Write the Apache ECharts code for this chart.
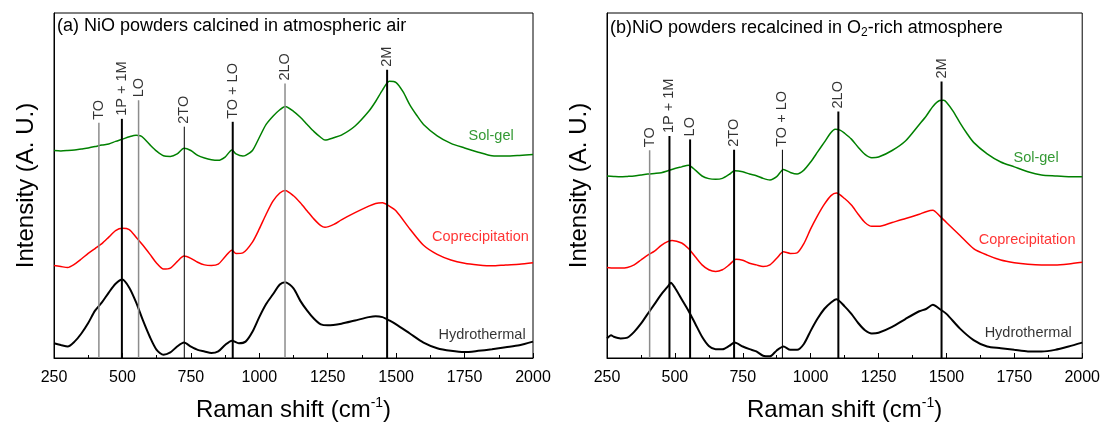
<!DOCTYPE html>
<html><head><meta charset="utf-8">
<script src="https://cdn.jsdelivr.net/npm/echarts@6/dist/echarts.min.js"></script>
<style>html,body{margin:0;padding:0;background:#fff}#c{width:1103px;height:429px}</style>
</head><body><div id="c"></div>
<script>
// ---------- data (Raman shift cm-1, intensity a.u.) ----------
const solGelA = [[250,211.7],[275,211.3],[300,211.7],[325,212.3],[350,213.3],[375,214.3],[400,215.7],[425,217.3],[450,218.3],[475,221],[500,223.3],[525,225.7],[550,227.3],[565,226.7],[575,225],[600,217.7],[625,211],[650,206.3],[675,205.7],[700,208.3],[725,214],[750,211.7],[775,206.7],[800,204],[825,202.3],[850,201.7],[875,205],[900,212.3],[915,208.3],[940,206],[950,206.7],[975,211.7],[1000,225],[1025,238.3],[1050,246.7],[1075,253.3],[1095,256.7],[1125,251.7],[1150,245.7],[1175,238.3],[1200,231],[1225,225],[1240,222.3],[1275,225],[1300,227.3],[1350,236.7],[1400,251.7],[1425,261.7],[1450,273.3],[1475,282.3],[1500,281],[1525,271.7],[1550,258.3],[1575,247.7],[1600,238.3],[1650,226.7],[1700,219],[1750,214.3],[1800,210],[1850,206.3],[1900,206],[1950,206.7],[2000,207.7]];
const coprecA = [[250,94.3],[275,93.3],[300,92.3],[325,95.7],[350,101],[375,106.7],[400,111.7],[425,116.7],[450,123.3],[475,130],[500,132.3],[525,131],[550,123.3],[575,115],[600,106],[625,96.7],[650,90.7],[675,91.7],[700,98.3],[725,104],[750,101.7],[775,97.7],[800,95],[825,94.3],[850,95.7],[875,103.3],[900,110],[915,106.7],[940,107.3],[975,118.3],[1000,131.7],[1025,146.7],[1050,160],[1075,168.3],[1095,171],[1125,165.5],[1150,158.3],[1175,150],[1200,141.7],[1225,135],[1240,133.3],[1275,136.7],[1300,141],[1350,148.3],[1400,155],[1425,157.7],[1450,158.3],[1475,155],[1500,150],[1550,131.7],[1600,115],[1650,105.7],[1700,100],[1750,96.7],[1800,95],[1850,94],[1900,95],[1950,95.7],[2000,97.3]];
const hydroA = [[250,15],[275,13.3],[300,11.7],[325,16.7],[350,25],[375,35.7],[400,48.3],[425,56.7],[450,66.7],[475,75.7],[500,80],[525,71.7],[550,56.7],[575,38.3],[600,21.7],[625,8.3],[650,3.3],[675,5.7],[700,11.7],[725,15.7],[750,11.7],[775,8.3],[800,6.7],[825,5],[850,6.7],[875,13.3],[900,17.7],[925,15],[950,16.7],[975,26.7],[1000,41.7],[1025,55],[1050,65],[1075,75],[1095,77.3],[1125,71],[1150,58.3],[1175,48.3],[1200,40],[1225,34.3],[1250,33.3],[1300,35],[1350,38.3],[1400,41.7],[1425,42.7],[1450,41.7],[1475,38.3],[1500,34.3],[1550,25],[1600,15.7],[1650,10],[1700,7.3],[1750,6],[1800,7.3],[1850,9],[1900,11],[1950,13],[2000,16.7]];

const solGelB = [[250,185.7],[275,185.3],[300,185],[325,185.3],[350,185.7],[375,186.7],[400,187.7],[425,188.3],[450,189],[475,191],[500,193.3],[525,195],[550,196.7],[575,191.7],[600,185.7],[625,183],[650,182.3],[675,183.3],[700,187.3],[720,191],[750,190],[775,187.7],[800,186],[825,183.3],[850,181.7],[875,185],[900,192.3],[925,189.3],[950,187.7],[975,191.7],[1000,200],[1025,210],[1050,220],[1075,230],[1090,233.3],[1110,232.3],[1125,229.3],[1150,223.3],[1175,215],[1200,207.7],[1225,204.3],[1250,205],[1300,211.7],[1350,221.7],[1400,238.3],[1425,246.7],[1450,256.7],[1475,262.7],[1490,263],[1500,261],[1525,251.7],[1550,240],[1575,229.3],[1600,220],[1650,208.3],[1700,200],[1750,195],[1800,190],[1850,186.7],[1900,185.7],[1950,185],[2000,185]];
const coprecB = [[250,92.3],[275,91.7],[300,91.7],[325,92.3],[350,95],[375,100],[400,105],[425,109],[450,115],[475,119],[490,120],[525,117.3],[550,111.7],[575,103.3],[600,95],[625,90],[650,88.3],[675,90],[700,95],[725,100.7],[750,99.7],[775,96.7],[800,95],[825,93.3],[850,95],[875,101.7],[900,108.3],[925,106.7],[950,107.3],[975,116.7],[1000,131.7],[1025,145],[1050,156.7],[1075,165.7],[1095,168.3],[1125,162.7],[1150,156],[1175,146.7],[1200,138.3],[1225,134.3],[1250,134.3],[1300,138.3],[1350,142.3],[1400,146.7],[1425,149.3],[1450,150.7],[1475,145],[1500,138.3],[1550,125],[1600,111.7],[1650,105],[1700,100],[1750,97.3],[1800,95.7],[1850,95],[1900,95],[1950,96],[2000,97.7]];
const hydroB = [[250,20],[265,23.3],[275,21.7],[300,20],[325,20.7],[350,26.7],[375,35],[400,45],[425,55],[450,65],[475,73.3],[485,76.7],[500,71.7],[525,60],[550,48.3],[575,35],[600,21.7],[625,12.3],[650,9],[675,9],[700,12.3],[720,15.7],[750,11.7],[775,9],[800,6.7],[825,2.3],[850,1.7],[875,7.7],[900,11.7],[925,8.3],[950,8.3],[975,14.3],[1000,27.7],[1025,40],[1050,50],[1075,56.7],[1095,60],[1125,52.7],[1150,45],[1175,35.7],[1200,28.3],[1225,25],[1250,25.7],[1300,31.7],[1350,40],[1400,47.7],[1425,50],[1450,54.3],[1475,50],[1500,45],[1550,30],[1600,18.3],[1650,11.7],[1700,10],[1750,8.3],[1800,6.7],[1850,6.7],[1900,8.3],[1950,11.7],[2000,15.7]];

const peakNames = ['TO', '1P + 1M', 'LO', '2TO', 'TO + LO', '2LO', '2M'];
const peakPosA = [414, 498, 559, 726, 903, 1094, 1467];
const peakTopA = [240, 244, 263, 236, 241, 280, 294];
const peakPosB = [407, 480, 556, 718, 896, 1102, 1482];
const peakTopB = [212, 226.5, 223, 212.5, 212.5, 251.5, 282];

const sampleNames = ['Sol-gel', 'Coprecipitation', 'Hydrothermal'];
const xTicks = [250, 500, 750, 1000, 1250, 1500, 1750, 2000];
const titleA = '(a) NiO powders calcined in atmospheric air';
const titleB = '(b)NiO powders recalcined in O{sub|2}-rich atmosphere';

// ---------- styles (kept apart from data) ----------
const peakKindA = ['gray', 'bold', 'gray', 'thin', 'bold', 'gray', 'bold'];
const peakKindB = ['gray', 'bold', 'bold', 'bold', 'thin', 'bold', 'bold'];
const sampleLabelAt = {a: [[1847, 226.5], [1808, 123.5], [1814, 23.5]], b: [[1830, 204.5], [1797, 120], [1801, 25]]};
const colors = ['#008000', '#ff0000', '#000000'];
const lineW = [1.5, 1.5, 2];
const kindStyle = {gray: {color: '#8c8c8c', width: 1.5}, bold: {color: '#000', width: 2}, thin: {color: '#000', width: 1}};
const FONT = '"Liberation Sans", Arial, sans-serif';

function panelSeries(k, curves, pos, top, kinds, labAt) {
  const s = [];
  curves.forEach((c, i) => s.push({
    type: 'line', xAxisIndex: k, yAxisIndex: k, data: c, showSymbol: false, smooth: 0.25,
    lineStyle: {color: colors[i], width: lineW[i]}, z: 2, animation: false, silent: true
  }));
  pos.forEach((v, i) => s.push({
    type: 'line', xAxisIndex: k, yAxisIndex: k, data: [[v, 0], [v, top[i]]], showSymbol: false,
    lineStyle: {color: kindStyle[kinds[i]].color, width: kindStyle[kinds[i]].width}, z: 3, animation: false, silent: true
  }));
  s.push({
    type: 'scatter', xAxisIndex: k, yAxisIndex: k, symbolSize: 0, animation: false, silent: true,
    data: pos.map((v, i) => [v, top[i], peakNames[i]]),
    label: {show: true, formatter: p => p.data[2], position: 'top', distance: 3, rotate: 90,
      align: 'left', verticalAlign: 'middle', fontSize: 14.5, fontFamily: FONT, color: '#000'}
  });
  sampleNames.forEach((n, i) => s.push({
    type: 'scatter', xAxisIndex: k, yAxisIndex: k, symbolSize: 0, animation: false, silent: true,
    data: [[labAt[i][0], labAt[i][1], n]],
    label: {show: true, formatter: p => p.data[2], position: 'inside', fontSize: 14.5, fontFamily: FONT, color: colors[i]}
  }));
  return s;
}

function xAxis(k) {
  return {
    type: 'value', gridIndex: k, min: 250, max: 2000, interval: 250,
    name: 'Raman shift (cm{sup|-1})', nameLocation: 'middle', nameGap: 38,
    nameTextStyle: {fontSize: 24, fontFamily: FONT, color: '#000', lineHeight: 28,
      rich: {sup: {fontSize: 14, fontFamily: FONT, color: '#000', verticalAlign: 'top', lineHeight: 10}}},
    axisLine: {show: true, lineStyle: {color: '#000', width: 1}},
    axisTick: {show: true, inside: true, length: 5, lineStyle: {color: '#000'}},
    minorTick: {show: true, splitNumber: 2, length: 3, lineStyle: {color: '#000'}},
    axisLabel: {fontSize: 16, fontFamily: FONT, color: '#000', margin: 12,
      formatter: v => xTicks.includes(v) ? String(v) : ''},
    splitLine: {show: false}
  };
}
function yAxis(k) {
  return {
    type: 'value', gridIndex: k, min: 0, max: 352,
    name: 'Intensity (A. U.)', nameLocation: 'middle', nameGap: 16, nameRotate: 90,
    nameTextStyle: {fontSize: 24, fontFamily: FONT, color: '#000'},
    axisLine: {show: true, lineStyle: {color: '#000'}}, axisTick: {show: false},
    axisLabel: {show: false}, splitLine: {show: false}
  };
}

const chart = echarts.init(document.getElementById('c'), null, {renderer: 'canvas'});
chart.setOption({
  animation: false,
  backgroundColor: '#fff',
  title: [
    {text: titleA, left: 57, top: 17, padding: 0, textStyle: {fontSize: 18, fontWeight: 'normal', fontFamily: FONT, color: '#000'}},
    {text: titleB, left: 610, top: 17, padding: 0, textStyle: {fontSize: 18, fontWeight: 'normal', fontFamily: FONT, color: '#000', lineHeight: 22,
      rich: {sub: {fontSize: 12, fontFamily: FONT, color: '#000', verticalAlign: 'bottom', lineHeight: 4}}}}
  ],
  grid: [
    {left: 54, top: 13, width: 479, height: 352, show: true, borderColor: '#000', borderWidth: 1, containLabel: false},
    {left: 607, top: 13, width: 478, height: 352, show: true, borderColor: '#000', borderWidth: 1, containLabel: false}
  ],
  xAxis: [xAxis(0), xAxis(1)],
  yAxis: [yAxis(0), yAxis(1)],
  series: [
    ...panelSeries(0, [solGelA, coprecA, hydroA], peakPosA, peakTopA, peakKindA, sampleLabelAt.a),
    ...panelSeries(1, [solGelB, coprecB, hydroB], peakPosB, peakTopB, peakKindB, sampleLabelAt.b)
  ]
});
</script></body></html>
